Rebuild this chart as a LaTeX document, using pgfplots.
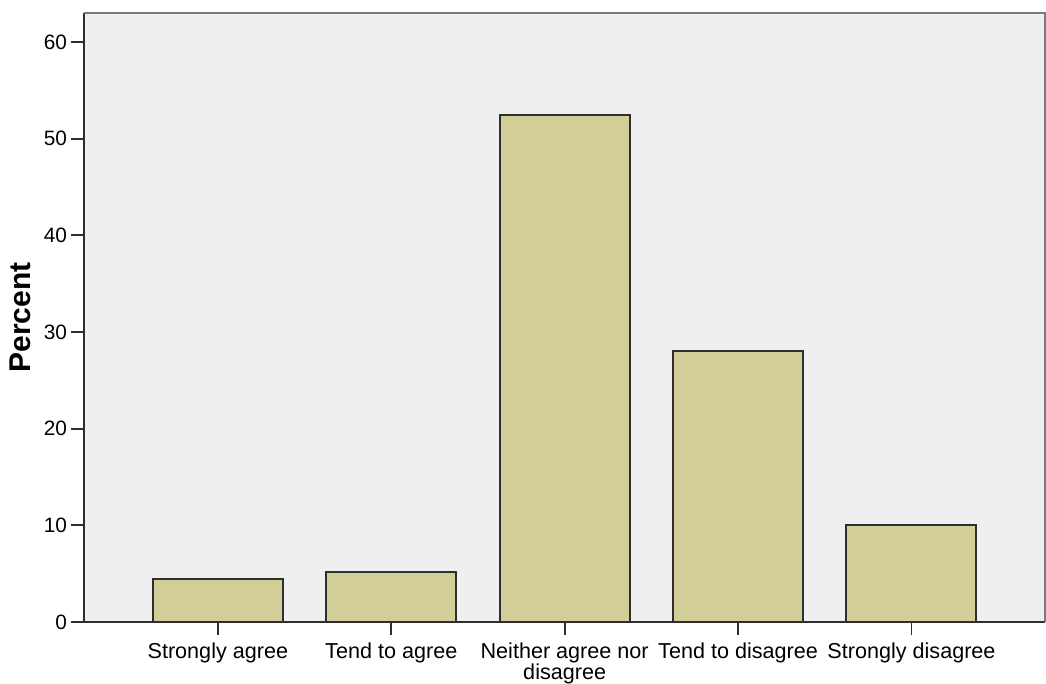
\documentclass[border=0pt]{standalone}
\usepackage{fontspec}
\setmainfont{Liberation Sans}
\usepackage{pgfplots}
\pgfplotsset{compat=1.18}
\definecolor{bgc}{HTML}{EFEFEF}
\definecolor{barc}{HTML}{D3CE97}
\definecolor{edgec}{HTML}{2E2E2E}
\definecolor{framec}{HTML}{7A7A7A}
\begin{document}
\begin{tikzpicture}
\useasboundingbox (-42pt,-31pt) rectangle (481pt,311pt);
\begin{axis}[
  scale only axis,
  width=480.5pt, height=304.5pt,
  at={(0,0)}, anchor=south west,
  xmin=-0.772, xmax=4.77,
  ymin=0, ymax=63,
  axis background/.style={fill=bgc},
  axis x line*=bottom, axis y line*=left,
  axis line style={-, edgec, line width=1pt},
  ytick={0,10,20,30,40,50,60},
  xtick={0,1,2,3,4},
  xticklabels={Strongly agree, Tend to agree, {Neither agree nor\\disagree}, Tend to disagree, Strongly disagree},
  tick align=outside,
  major tick length=6.5pt,
  tick style={edgec, line width=0.9pt},
  /pgf/number format/assume math mode=true,
  yticklabel style={font=\fontsize{10.4}{10.5}\selectfont, xshift=1.5pt},
  xticklabel style={font=\fontsize{10.8}{10.3}\selectfont, align=center, yshift=-0.5pt},
  ylabel={Percent},
  every axis y label/.style={at={(axis description cs:-0.066,0.5)}, rotate=90, anchor=center, font=\fontsize{15}{15}\bfseries},
  clip=false,
]
\addplot[ybar, bar width=65pt, fill=barc, draw=edgec, line width=1pt]
  coordinates {(0,4.4) (1,5.2) (2,52.5) (3,28.0) (4,10.0)};
\draw[framec, line width=1.3pt] (rel axis cs:0,1) -- (rel axis cs:1,1) -- (rel axis cs:1,0);
\end{axis}
\end{tikzpicture}
\end{document}
